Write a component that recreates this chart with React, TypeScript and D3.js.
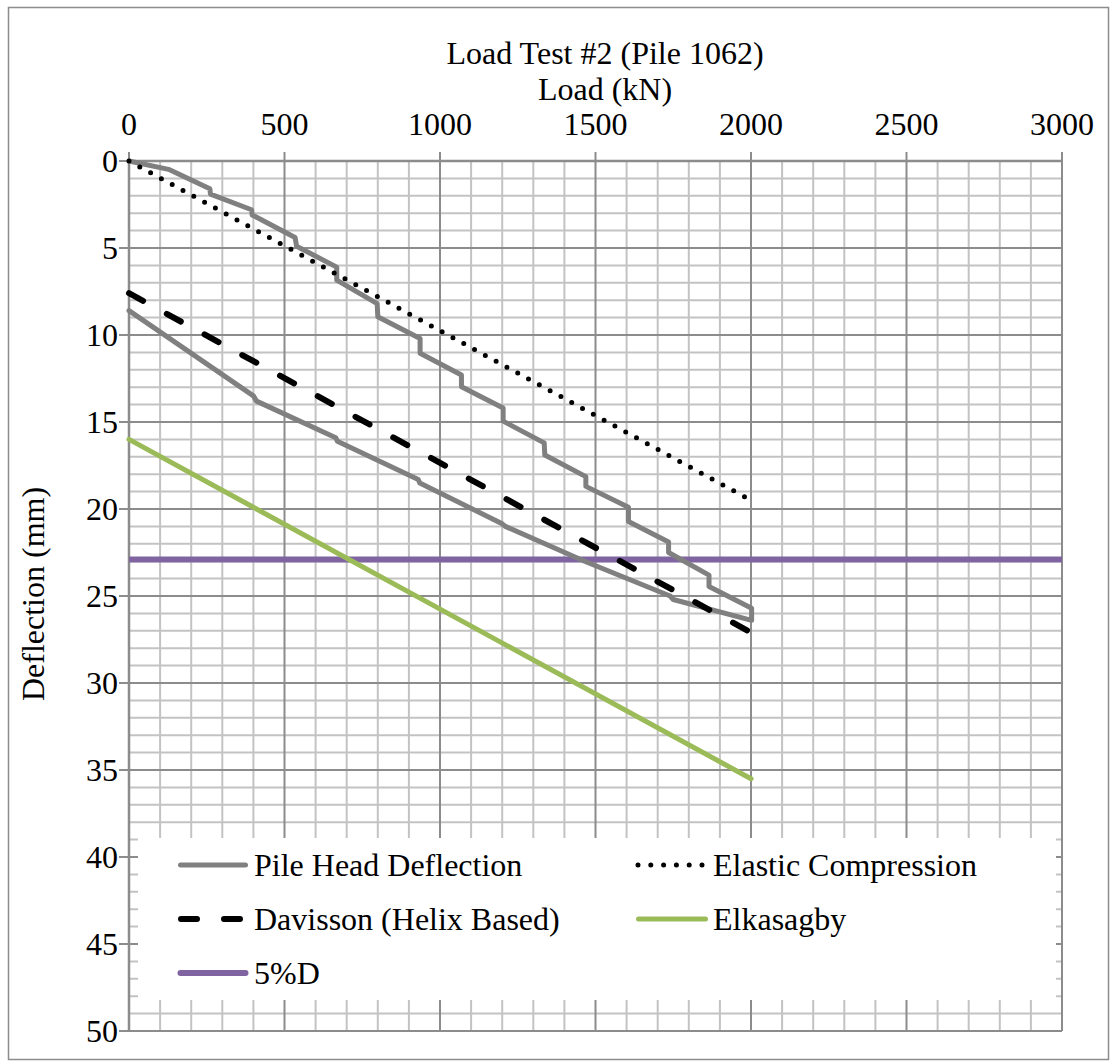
import React from "react";
import * as d3 from "d3";

// Load test #2 on pile 1062: load (kN) against pile head deflection (mm)
const loadTicks = [0, 500, 1000, 1500, 2000, 2500, 3000];
const deflTicks = [0, 5, 10, 15, 20, 25, 30, 35, 40, 45, 50];

// Measured pile head deflection: stepped loading branch, then unloading branch
const pileLoad = [
  0, 127, 260, 262, 394, 396, 534, 539, 668, 668, 798, 800, 936, 936, 1069, 1069,
  1203, 1203, 1335, 1337, 1469, 1469, 1606, 1606, 1735, 1735, 1865, 1865, 2002, 2002,
  1750, 1740, 1465, 1210, 1200, 935, 930, 670, 665, 410, 400, 0,
];
const pileDefl = [
  0, 0.48, 1.6, 1.9, 2.8, 3.1, 4.4, 4.9, 6.1, 6.85, 8.2, 8.95, 10.2, 11.05, 12.3, 12.97,
  14.2, 14.95, 16.2, 16.9, 18.14, 18.7, 19.9, 20.72, 21.9, 22.5, 23.8, 24.45, 25.7, 26.4,
  25.2, 25.0, 23.0, 21.0, 20.85, 18.5, 18.3, 16.1, 15.9, 13.8, 13.5, 8.6,
];

const elasticLoad = [0, 2000];
const elasticDefl = [0, 19.5];

const davissonLoad = [0, 2000];
const davissonDefl = [7.6, 27.1];

const elkasagbyLoad = [0, 2000];
const elkasagbyDefl = [16.0, 35.5];

const fivePctLoad = [0, 3000];
const fivePctDefl = [22.9, 22.9];

const seriesNames = [
  "Pile Head Deflection",
  "Elastic Compression",
  "Davisson (Helix Based)",
  "Elkasagby",
  "5%D",
];

const W = 1110;
const H = 1061;
const FONT = "'Liberation Serif', 'Times New Roman', serif";

const x = d3.scaleLinear().domain([0, 3000]).range([129, 1062]);
const y = d3.scaleLinear().domain([0, 50]).range([161, 1031]);

const line = d3
  .line<[number, number]>()
  .x((d) => x(d[0]))
  .y((d) => y(d[1]));

const zip = (a: number[], b: number[]): [number, number][] =>
  a.map((v, i) => [v, b[i]] as [number, number]);

const GRAY = "#808080";
const MINOR = "#c3c3c3";
const MAJOR = "#8c8c8c";
const GREEN = "#9bbb59";
const PURPLE = "#8064a2";

export default function App() {
  const minorX = d3.range(0, 3001, 100).filter((v) => v % 500 !== 0);
  const minorY = d3.range(0, 51, 1).filter((v) => v % 5 !== 0);

  const styles = {
    pile: { stroke: GRAY, strokeWidth: 5, fill: "none", strokeLinejoin: "round" as const, strokeLinecap: "round" as const },
    elastic: { stroke: "#000", strokeWidth: 5, fill: "none", strokeDasharray: "0 12.3", strokeLinecap: "round" as const },
    davisson: { stroke: "#000", strokeWidth: 6, fill: "none", strokeDasharray: "16 27", strokeLinecap: "round" as const },
    elk: { stroke: GREEN, strokeWidth: 5, fill: "none", strokeLinecap: "round" as const },
    five: { stroke: PURPLE, strokeWidth: 6, fill: "none" },
  };

  return (
    <svg
      width={W}
      height={H}
      style={{ position: "absolute", left: 0, top: 0, display: "block", background: "#fff" }}
      fontFamily={FONT}
    >
      <rect x={0} y={0} width={W} height={H} fill="#fff" />
      {/* chart border */}
      <rect x={8.5} y={7.5} width={1100} height={1052} fill="none" stroke="#8c8c8c" strokeWidth={1.5} />

      {/* minor grid */}
      {minorX.map((v) => (
        <line key={"mx" + v} x1={x(v)} x2={x(v)} y1={y(0)} y2={y(50)} stroke={MINOR} strokeWidth={2} />
      ))}
      {minorY.map((v) => (
        <line key={"my" + v} x1={x(0)} x2={x(3000)} y1={y(v)} y2={y(v)} stroke={MINOR} strokeWidth={2} />
      ))}
      {/* major grid */}
      {loadTicks.map((v) => (
        <line key={"Mx" + v} x1={x(v)} x2={x(v)} y1={y(0)} y2={y(50)} stroke={MAJOR} strokeWidth={2} />
      ))}
      {deflTicks.map((v) => (
        <line key={"My" + v} x1={x(0)} x2={x(3000)} y1={y(v)} y2={y(v)} stroke={MAJOR} strokeWidth={2} />
      ))}

      {/* axes with outward major ticks */}
      <line x1={x(0)} x2={x(3000)} y1={y(0)} y2={y(0)} stroke={MAJOR} strokeWidth={2.5} />
      <line x1={x(0)} x2={x(0)} y1={y(0)} y2={y(50)} stroke={MAJOR} strokeWidth={2.5} />
      {loadTicks.map((v) => (
        <line key={"tx" + v} x1={x(v)} x2={x(v)} y1={y(0) - 9} y2={y(0)} stroke={MAJOR} strokeWidth={2} />
      ))}
      {deflTicks.map((v) => (
        <line key={"ty" + v} x1={x(0) - 10} x2={x(0)} y1={y(v)} y2={y(v)} stroke={MAJOR} strokeWidth={2} />
      ))}

      {/* tick labels */}
      {loadTicks.map((v) => (
        <text key={"lx" + v} x={x(v)} y={135} textAnchor="middle" fontSize={32} fill="#000">
          {v}
        </text>
      ))}
      {deflTicks.map((v) => (
        <text key={"ly" + v} x={118} y={y(v) + 11} textAnchor="end" fontSize={32} fill="#000">
          {v}
        </text>
      ))}

      {/* titles */}
      <text x={605} y={63.5} textAnchor="middle" fontSize={32} fill="#000">
        Load Test #2 (Pile 1062)
      </text>
      <text x={605} y={99.5} textAnchor="middle" fontSize={32} fill="#000">
        Load (kN)
      </text>
      <text
        transform={`translate(44, ${y(25) - 2}) rotate(-90)`}
        textAnchor="middle"
        fontSize={32}
        fill="#000"
      >
        Deflection (mm)
      </text>

      {/* series */}
      <path d={line(zip(fivePctLoad, fivePctDefl)) || ""} style={styles.five} />
      <path d={line(zip(elkasagbyLoad, elkasagbyDefl)) || ""} style={styles.elk} />
      <path d={line(zip(pileLoad, pileDefl)) || ""} style={styles.pile} />
      <path d={line(zip(davissonLoad, davissonDefl)) || ""} style={styles.davisson} />
      <path d={line(zip(elasticLoad, elasticDefl)) || ""} style={styles.elastic} />

      {/* legend */}
      <rect x={138} y={838} width={918} height={162} fill="#fff" />
      <line x1={180.5} x2={245.5} y1={865} y2={865} style={styles.pile} />
      <text x={254} y={876} fontSize={32} fill="#000">{seriesNames[0]}</text>
      <line x1={181} x2={245} y1={919} y2={919} style={styles.davisson} />
      <text x={254} y={930} fontSize={32} fill="#000">{seriesNames[2]}</text>
      <line x1={180.5} x2={245.5} y1={973} y2={973} style={{ ...styles.five, strokeLinecap: "round" }} />
      <text x={254} y={984} fontSize={32} fill="#000">{seriesNames[4]}</text>
      <line x1={638} x2={705} y1={865} y2={865} style={{ ...styles.elastic, strokeDasharray: "0 12.8" }} />
      <text x={713} y={876} fontSize={32} fill="#000">{seriesNames[1]}</text>
      <line x1={638.5} x2={705.5} y1={919} y2={919} style={styles.elk} />
      <text x={713} y={930} fontSize={32} fill="#000">{seriesNames[3]}</text>
    </svg>
  );
}
